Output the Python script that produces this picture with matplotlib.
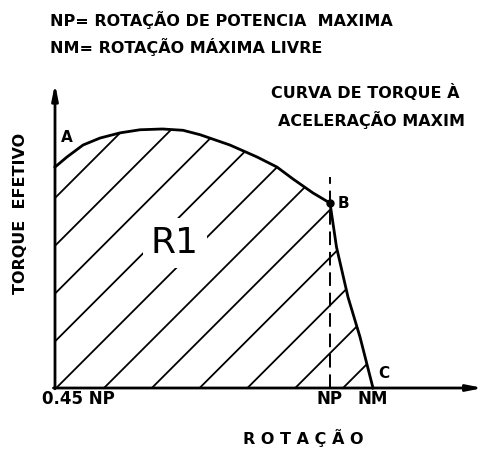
import numpy as np
import matplotlib
matplotlib.use('Agg')
import matplotlib.pyplot as plt
from matplotlib.patches import Polygon

# torque curve, x = rotation as fraction of NP, y = torque (peak = 1)
curve_x = [0.45, 0.474, 0.506, 0.54, 0.58, 0.62, 0.665, 0.706, 0.74, 0.80,
           0.854, 0.894, 0.926, 0.966, 1.0, 1.013, 1.036, 1.06, 1.086]
curve_y = [0.853, 0.892, 0.938, 0.965, 0.985, 0.997, 1.0, 0.995, 0.978, 0.938,
           0.892, 0.853, 0.807, 0.753, 0.714, 0.544, 0.351, 0.197, 0.0]
np_x = 1.0
nm_x = 1.086
b_point = (1.0, 0.714)
dash_top = 0.815

tick_labels = ['0.45 NP', 'NP', 'NM']

fig = plt.figure(figsize=(4.85, 4.51), dpi=100)
ax = fig.add_axes([0, 0, 1, 1])
ax.set_xlim(0.34, 1.31)
ax.set_ylim(-0.2432, 1.498)
ax.axis('off')

def px(x, y):
    # image pixel -> axes fraction, for text placement
    return x / 485, 1 - y / 451

# region under the curve
verts = [(0.45, 0)] + list(zip(curve_x, curve_y)) + [(0.45, 0)]
region = Polygon(verts, closed=True, facecolor='none', edgecolor='none')
ax.add_patch(region)

# 45 degree hatching, clipped to the region
p0 = ax.transData.transform((0, 0))
p1 = ax.transData.transform((1, 1))
slope = (p1[0] - p0[0]) / (p1[1] - p0[1])
xs = np.array([0.0, 1.5])
for x0 in np.arange(0.07, 1.04, 0.0956):
    ln, = ax.plot(xs, (xs - x0) * slope, color='black', lw=1.3)
    ln.set_clip_path(region)

# curve
ax.plot(curve_x, curve_y, color='black', lw=2, solid_joinstyle='round')

# axes with arrows
ax.annotate('', xy=(0.45, 1.175), xytext=(0.45, -0.003),
            arrowprops=dict(arrowstyle='-|>,head_length=0.9,head_width=0.18',
                            lw=2, color='black', shrinkA=0, shrinkB=0))
ax.annotate('', xy=(1.306, 0), xytext=(0.447, 0),
            arrowprops=dict(arrowstyle='-|>,head_length=0.9,head_width=0.18',
                            lw=2, color='black', shrinkA=0, shrinkB=0))

# dashed NP line
ax.plot([np_x, np_x], [0, dash_top], color='black', lw=1.4,
        linestyle=(0, (7, 3.5)))
ax.plot(*b_point, 'o', color='black', ms=5)

font = dict(family='DejaVu Sans', weight='bold', color='black')
ax.text(*px(50, 20), 'NP= ROTAÇÃO DE POTENCIA  MAXIMA', transform=ax.transAxes,
        fontsize=11.5, ha='left', va='center', **font)
ax.text(*px(50, 47), 'NM= ROTAÇÃO MÁXIMA LIVRE', transform=ax.transAxes,
        fontsize=11.5, ha='left', va='center', **font)
ax.text(*px(365, 93), 'CURVA DE TORQUE À', transform=ax.transAxes,
        fontsize=11.5, ha='center', va='center', **font)
ax.text(*px(372, 120), 'ACELERAÇÃO MAXIM', transform=ax.transAxes,
        fontsize=11.5, ha='center', va='center', **font)
ax.text(*px(21, 213), 'TORQUE  EFETIVO', transform=ax.transAxes, rotation=90,
        fontsize=11.5, ha='center', va='center', **font)
ax.text(*px(67, 137), 'A', transform=ax.transAxes, fontsize=11,
        ha='center', va='center', **font)
ax.text(*px(343, 203), 'B', transform=ax.transAxes, fontsize=11,
        ha='center', va='center', **font)
ax.text(*px(384, 374), 'C', transform=ax.transAxes, fontsize=11,
        ha='center', va='center', **font)
ax.text(*px(175, 243), 'R1', transform=ax.transAxes, fontsize=26,
        ha='center', va='center', family='DejaVu Sans', color='black',
        bbox=dict(facecolor='white', edgecolor='none', pad=6))

for lab, x in zip(tick_labels, [0.45, np_x, nm_x]):
    xa = ax.transAxes.inverted().transform(ax.transData.transform((x, 0)))[0]
    if lab == '0.45 NP':
        xa = px(78, 0)[0]
    ax.text(xa, px(0, 399)[1], lab, transform=ax.transAxes, fontsize=12,
            ha='center', va='center', **font)

ax.text(*px(303, 438), 'R O T A Ç Ã O', transform=ax.transAxes, fontsize=11.5,
        ha='center', va='center', **font)

fig.savefig('out.png', dpi=100)
